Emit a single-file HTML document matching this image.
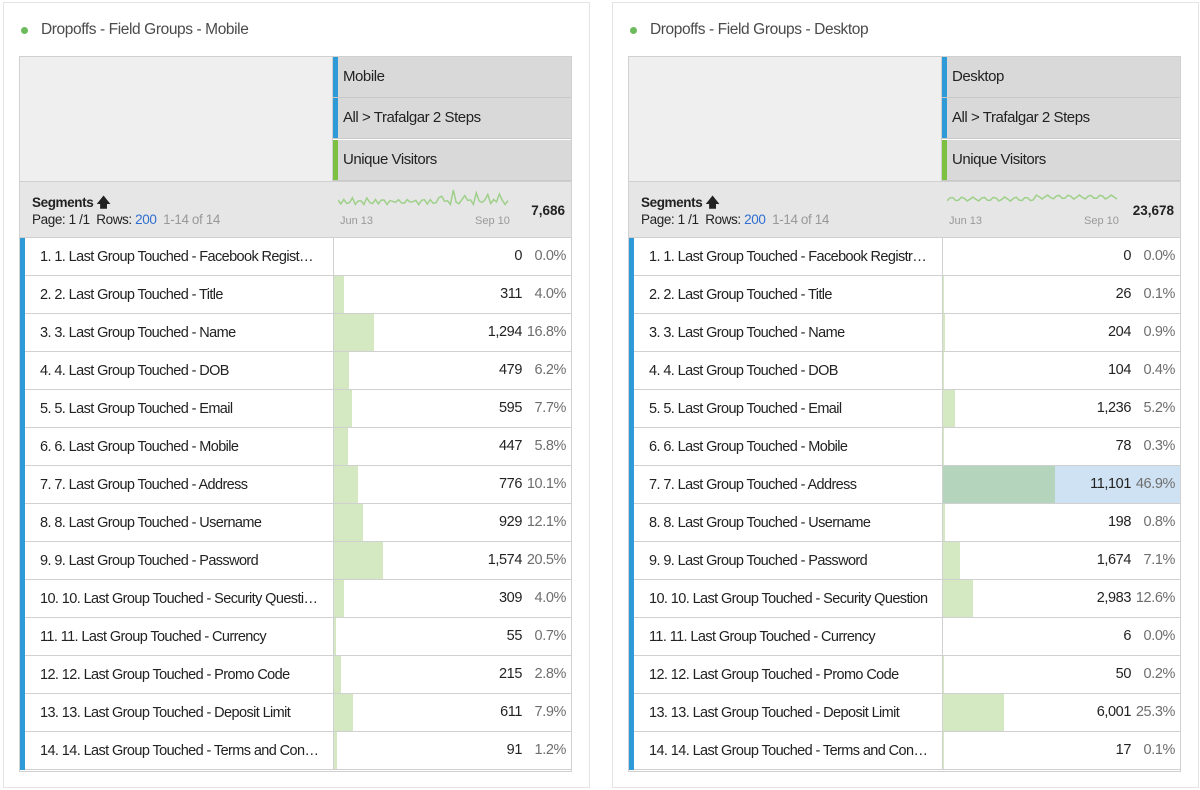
<!DOCTYPE html>
<html><head><meta charset="utf-8">
<style>
*{box-sizing:border-box;margin:0;padding:0}
body{width:1200px;height:790px;background:#fff;font-family:"Liberation Sans",sans-serif;color:#222;position:relative;overflow:hidden}
.panel{position:absolute;top:2px;width:587px;height:786px;border:1px solid #e4e4e4;background:#fff}
.title{position:absolute;left:37px;top:18px;font-size:15.5px;color:#4b4b4b;letter-spacing:-0.4px}
.dot{position:absolute;left:17px;top:24px;width:7px;height:7px;border-radius:50%;background:#6dbb5d}
.tbl{position:absolute;left:15px;top:53px;width:553px;height:716px;border:1px solid #d0d0d0;overflow:hidden}
.hl{position:absolute;left:0;top:0;width:313px;height:124px;background:#efefef;border-right:1px solid #d0d0d0}
.hr{position:absolute;left:313px;width:239px;height:41px;background:#d9d9d9;border-bottom:1px solid #c8c8c8;font-size:15px;padding:11px 0 0 10px;letter-spacing:-0.45px}
.hr i{position:absolute;left:0;top:0;bottom:0;width:5px;background:#2e9ad8}
.hr i.g{background:#7cc142}
.seg{position:absolute;left:0;top:124px;width:552px;height:57px;background:#e6e6e6;border-top:1px solid #d0d0d0;border-bottom:1px solid #cfcfcf}
.seg b{position:absolute;left:12px;top:11px;font-size:13.5px;letter-spacing:-0.4px}
.seg .pg{position:absolute;left:12px;top:30px;font-size:13.5px;letter-spacing:-0.4px}
.seg .tot{position:absolute;right:7px;top:21px;font-size:13.5px;font-weight:bold}
.ax{position:absolute;top:33px;font-size:11px;color:#999}
.row{position:absolute;left:0;width:552px;height:38px;border-bottom:1px solid #d0d0d0;background:#fff}
.row .bl{position:absolute;left:0;top:0;bottom:-1px;width:5px;background:#2e9ad8}
.row .lab{position:absolute;left:12px;top:11px;width:296px;font-size:14.5px;letter-spacing:-0.6px;white-space:nowrap;overflow:hidden;text-overflow:ellipsis;padding-left:8px}
.row .cell{position:absolute;left:313px;top:0;width:239px;height:37px;border-left:1px solid #d0d0d0}
.row .bar{position:absolute;left:0;top:0;height:37px;background:#d4e8c2}
.row .num{position:absolute;right:50px;top:10px;font-size:14.5px;letter-spacing:-0.4px}
.row .pct{position:absolute;right:6px;top:10px;font-size:14.5px;color:#6e6e6e;letter-spacing:-0.4px}
</style></head><body>
<div class="panel" style="left:3px" id="p1"></div>
<div class="panel" style="left:612px" id="p2"></div>
<script>
var names=["1. 1. Last Group Touched - Facebook Regist\u2026","2. 2. Last Group Touched - Title","3. 3. Last Group Touched - Name","4. 4. Last Group Touched - DOB","5. 5. Last Group Touched - Email","6. 6. Last Group Touched - Mobile","7. 7. Last Group Touched - Address","8. 8. Last Group Touched - Username","9. 9. Last Group Touched - Password","10. 10. Last Group Touched - Security Questi\u2026","11. 11. Last Group Touched - Currency","12. 12. Last Group Touched - Promo Code","13. 13. Last Group Touched - Deposit Limit","14. 14. Last Group Touched - Terms and Con\u2026"];
var names2=names.slice();names2[0]="1. 1. Last Group Touched - Facebook Registr\u2026";names2[9]="10. 10. Last Group Touched - Security Question";
var m=[["0","0.0%"],["311","4.0%"],["1,294","16.8%"],["479","6.2%"],["595","7.7%"],["447","5.8%"],["776","10.1%"],["929","12.1%"],["1,574","20.5%"],["309","4.0%"],["55","0.7%"],["215","2.8%"],["611","7.9%"],["91","1.2%"]];
var d=[["0","0.0%"],["26","0.1%"],["204","0.9%"],["104","0.4%"],["1,236","5.2%"],["78","0.3%"],["11,101","46.9%"],["198","0.8%"],["1,674","7.1%"],["2,983","12.6%"],["6","0.0%"],["50","0.2%"],["6,001","25.3%"],["17","0.1%"]];
function spark(seed,flat){var s="";for(var i=0;i<60;i++){var x=i*170/59;var y=flat?9+Math.sin(i*1.7+seed)*2-(i>30?2:0):12+Math.sin(i*2.3+seed)*2.5-(i>35&&i%4==0?8:0)+(i%5==0?-2:0);s+=x.toFixed(1)+","+y.toFixed(1)+" ";}return '<svg style="position:absolute;left:318px;top:8px" width="172" height="22"><polyline points="'+s+'" fill="none" stroke="#9fd08a" stroke-width="1.5"/></svg>';}
function build(id,title,h1,data,nm,tot,flat){var h='<div class="dot"></div><div class="title">'+title+'</div><div class="tbl"><div class="hl"></div>';
[h1,"All &gt; Trafalgar 2 Steps","Unique Visitors"].forEach(function(t,i){h+='<div class="hr" style="top:'+(i*41.3)+'px"><i'+(i==2?' class="g"':'')+'></i>'+t+'</div>';});
h+='<div class="seg"><b>Segments &#129093;</b><div class="pg">Page: 1 /1&nbsp; Rows: <span style="color:#2f6fd0">200</span>&nbsp; <span style="color:#999">1-14 of 14</span></div>'+spark(id=="p1"?0:2,flat)+'<div class="ax" style="left:320px">Jun 13</div><div class="ax" style="left:455px">Sep 10</div><div class="tot">'+tot+'</div></div>';
data.forEach(function(r,i){var w=parseFloat(r[1])/100*239;var hi=(id=="p2"&&i==6);
h+='<div class="row" style="top:'+(181+i*38)+'px"><div class="bl"></div><div class="lab">'+nm[i]+'</div><div class="cell"'+(hi?' style="background:#cfe2f3"':'')+'><div class="bar" style="width:'+w.toFixed(1)+'px'+(hi?';background:#b5d4bc':'')+'"></div><div class="num">'+r[0]+'</div><div class="pct">'+r[1]+'</div></div></div>';});
h+='</div>';document.getElementById(id).innerHTML=h;}
build("p1","Dropoffs - Field Groups - Mobile","Mobile",m,names,"7,686",false);
build("p2","Dropoffs - Field Groups - Desktop","Desktop",d,names2,"23,678",true);
</script>
</body></html>
